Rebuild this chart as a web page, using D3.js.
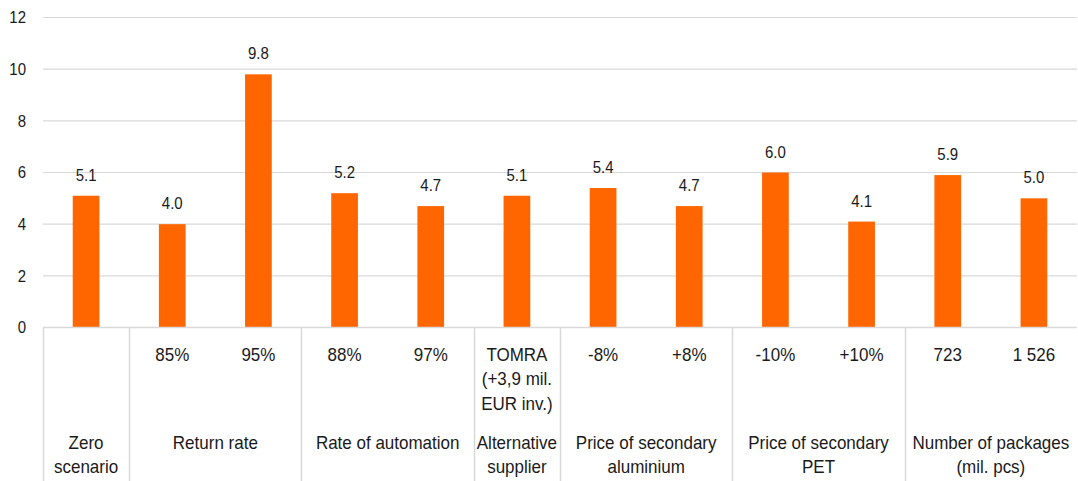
<!DOCTYPE html>
<html>
<head>
<meta charset="utf-8">
<script src="https://cdn.jsdelivr.net/npm/d3@7"></script>
<style>
  html, body { margin: 0; padding: 0; background: #fff; }
  svg { display: block; font-family: "Liberation Sans", Arial, sans-serif; }
</style>
</head>
<body>
<svg id="chart" width="1078" height="481"></svg>
<script>
// Scenario values (one bar per slot)
const values = [5.1, 4.0, 9.8, 5.2, 4.7, 5.1, 5.4, 4.7, 6.0, 4.1, 5.9, 5.0];
// Inner label under each bar (multi-line where needed)
const subLabels = [
  [""], ["85%"], ["95%"], ["88%"], ["97%"],
  ["TOMRA", "(+3,9 mil.", "EUR inv.)"],
  ["-8%"], ["+8%"], ["-10%"], ["+10%"], ["723"], ["1 526"]
];
// Outer group labels and how many slots each group spans
const groupLabels = [
  ["Zero", "scenario"],
  ["Return rate"],
  ["Rate of automation"],
  ["Alternative", "supplier"],
  ["Price of secondary", "aluminium"],
  ["Price of secondary", "PET"],
  ["Number of packages", "(mil. pcs)"]
];
const groupSpans = [1, 2, 2, 1, 2, 2, 2];
const yTicks = [0, 2, 4, 6, 8, 10, 12];

const svg = d3.select("#chart");
const plotLeft = 43, plotRight = 1077, plotTop = 17.5, plotBase = 327.5, plotBottom = 481;
const textColor = "#1a1a1a";
const gridColor = "#d9d9d9";
const stretch = 1.1; // glyphs are drawn slightly taller than wide

const slots = d3.range(values.length);
const x = d3.scaleBand().domain(slots).range([plotLeft, plotRight])
  .paddingInner(0.69).paddingOuter(0.345);
const y = d3.scaleLinear().domain([0, 12]).range([plotBase, plotTop]);
const step = x.step();

// Draws a (possibly multi-line) label whose first baseline sits at (cx, by)
function label(parent, cx, by, lines, size, lineGap, anchor) {
  const t = parent.append("text")
    .attr("transform", `translate(${cx},${by}) scale(1,${stretch})`)
    .attr("text-anchor", anchor || "middle")
    .attr("fill", textColor).style("font-size", size + "px");
  lines.forEach((line, li) => {
    t.append("tspan").attr("x", 0).attr("y", li * lineGap / stretch).text(line);
  });
  return t;
}

// Horizontal gridlines
svg.append("g").selectAll("line").data(yTicks.filter(d => d > 0)).join("line")
  .attr("x1", plotLeft).attr("x2", plotRight)
  .attr("y1", d => y(d)).attr("y2", d => y(d))
  .attr("stroke", gridColor).attr("stroke-width", 1.2);

// Y axis tick labels
const yg = svg.append("g");
yTicks.forEach(v => label(yg, plotLeft - 17, y(v) + 5.8, [String(v)], 15, 0, "end"));

// Bars
svg.append("g").selectAll("rect").data(values).join("rect")
  .attr("x", (d, i) => x(i)).attr("width", x.bandwidth())
  .attr("y", d => y(d)).attr("height", d => plotBase - y(d))
  .attr("fill", "#ff6600");

// Value labels above bars
const vg = svg.append("g");
values.forEach((v, i) => label(vg, x(i) + x.bandwidth() / 2, y(v) - 15, [v.toFixed(1)], 15, 0));

// Category axis baseline
svg.append("line").attr("x1", plotLeft).attr("x2", plotRight)
  .attr("y1", plotBase).attr("y2", plotBase)
  .attr("stroke", gridColor).attr("stroke-width", 1.5);

// Group boundary lines and group labels
let startSlot = 0;
const groups = groupSpans.map((span, gi) => {
  const g = { start: startSlot, span, lines: groupLabels[gi] };
  startSlot += span;
  return g;
});
const sep = svg.append("g");
const gl = svg.append("g");
groups.forEach(g => {
  const x0 = x(g.start) - x.paddingOuter() * step;
  sep.append("line")
    .attr("x1", Math.round(x0) + 0.5).attr("x2", Math.round(x0) + 0.5)
    .attr("y1", plotBase).attr("y2", plotBottom)
    .attr("stroke", gridColor).attr("stroke-width", 1.5);
  label(gl, x0 + g.span * step / 2, 449, g.lines, 17, 24.5);
});

// Inner labels under each bar
const sl = svg.append("g");
slots.forEach(i => label(sl, x(i) + x.bandwidth() / 2, 360.5, subLabels[i], 17, 24.8));
</script>
</body>
</html>
